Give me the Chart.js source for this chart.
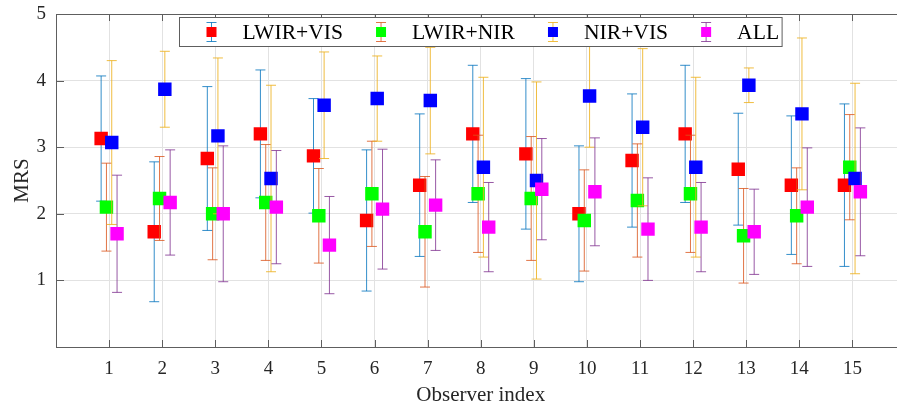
<!DOCTYPE html>
<html>
<head>
<meta charset="utf-8">
<script src="https://cdn.jsdelivr.net/npm/chart.js@4/dist/chart.umd.min.js"></script>
<style>
  html, body { margin: 0; padding: 0; background: #fff; overflow: hidden; }
  #wrap { width: 897px; height: 412px; overflow: hidden; }
  canvas { display: block; }
</style>
</head>
<body>
<!-- the axes box runs past the right edge of the picture, as in the original figure -->
<div id="wrap"><canvas id="chart" width="915" height="412"></canvas></div>
<script>
const observers = [1, 2, 3, 4, 5, 6, 7, 8, 9, 10, 11, 12, 13, 14, 15];
const yTicks = [1, 2, 3, 4, 5];
const seriesNames = ["LWIR+VIS", "LWIR+NIR", "NIR+VIS", "ALL"];

const lwirVisMean = [3.13, 1.73, 2.83, 3.2, 2.87, 1.9, 2.43, 3.2, 2.9, 2.0, 2.8, 3.2, 2.67, 2.43, 2.43];
const lwirVisStd = [0.94, 1.05, 1.08, 0.96, 0.86, 1.06, 1.07, 1.03, 1.13, 1.02, 1.0, 1.03, 0.84, 1.04, 1.22];

const lwirNirMean = [2.1, 2.23, 2.0, 2.17, 1.97, 2.3, 1.73, 2.3, 2.23, 1.9, 2.2, 2.3, 1.67, 1.97, 2.7];
const lwirNirStd = [0.66, 0.63, 0.69, 0.87, 0.71, 0.79, 0.83, 0.88, 0.93, 0.76, 0.85, 0.88, 0.71, 0.72, 0.79];

const nirVisMean = [3.07, 3.87, 3.17, 2.53, 3.63, 3.73, 3.7, 2.7, 2.5, 3.77, 3.3, 2.7, 3.93, 3.5, 2.53];
const nirVisStd = [1.23, 0.57, 1.17, 1.4, 0.8, 0.64, 0.8, 1.35, 1.48, 0.77, 1.18, 1.35, 0.26, 1.14, 1.43];

const allMean = [1.7, 2.17, 2.0, 2.1, 1.53, 2.07, 2.13, 1.8, 2.37, 2.33, 1.77, 1.8, 1.73, 2.1, 2.33];
const allStd = [0.88, 0.79, 1.02, 0.85, 0.73, 0.9, 0.68, 0.67, 0.76, 0.81, 0.77, 0.67, 0.64, 0.89, 0.96];

const means = [lwirVisMean, lwirNirMean, nirVisMean, allMean];
const stds = [lwirVisStd, lwirNirStd, nirVisStd, allStd];

// styling
const offsets = [-0.15, -0.05, 0.05, 0.15];
const markerColors = ["#ff0000", "#00ff00", "#0000ff", "#ff00ff"];
const errColors = ["rgba(0,114,189,0.8)", "rgba(217,83,25,0.8)", "rgba(237,177,32,0.85)", "rgba(126,47,142,0.8)"];
const serif = "'Liberation Serif', 'Times New Roman', serif";
const textColor = "#262626";
const axisColor = "#5e5e5e";

const errorBars = {
  id: "errorBars",
  beforeDatasetDraw(chart, args) {
    const i = args.index;
    const ctx = chart.ctx;
    const xs = chart.scales.x;
    const ys = chart.scales.y;
    ctx.save();
    ctx.strokeStyle = errColors[i];
    ctx.lineWidth = 1;
    observers.forEach((o, j) => {
      const x = xs.getPixelForValue(o + offsets[i]);
      const yt = ys.getPixelForValue(means[i][j] + stds[i][j]);
      const yb = ys.getPixelForValue(means[i][j] - stds[i][j]);
      ctx.beginPath();
      ctx.moveTo(x, yt);
      ctx.lineTo(x, yb);
      ctx.moveTo(x - 5, yt);
      ctx.lineTo(x + 5, yt);
      ctx.moveTo(x - 5, yb);
      ctx.lineTo(x + 5, yb);
      ctx.stroke();
    });
    ctx.restore();
  }
};

const frame = {
  id: "frame",
  beforeDatasetsDraw(chart) {
    const ctx = chart.ctx;
    const a = chart.chartArea;
    const xs = chart.scales.x;
    const ys = chart.scales.y;
    ctx.save();
    ctx.strokeStyle = axisColor;
    ctx.lineWidth = 1;
    ctx.beginPath();
    ctx.moveTo(a.left, a.top + 0.5);
    ctx.lineTo(a.right, a.top + 0.5);
    observers.forEach((o) => {
      const x = Math.round(xs.getPixelForValue(o)) + 0.5;
      ctx.moveTo(x, a.bottom);
      ctx.lineTo(x, a.bottom - 7);
      ctx.moveTo(x, a.top);
      ctx.lineTo(x, a.top + 7);
    });
    yTicks.forEach((v) => {
      const y = Math.round(ys.getPixelForValue(v)) + 0.5;
      ctx.moveTo(a.left, y);
      ctx.lineTo(a.left + 8, y);
    });
    ctx.stroke();
    ctx.restore();
  }
};

const legendBox = {
  id: "legendBox",
  afterDraw(chart) {
    const ctx = chart.ctx;
    const a = chart.chartArea;
    const xs = chart.scales.x;
    ctx.save();
    ctx.font = "21.6px " + serif;
    const widths = seriesNames.map((n) => ctx.measureText(n).width);
    const padL = 32, iconGap = 31, entryGap = 38, padR = 3;
    let total = padL + padR;
    widths.forEach((w, i) => {
      total += iconGap + w + (i < widths.length - 1 ? entryGap : 0);
    });
    const h = 29;
    // legend is centred on the middle of the axes box (x = 8)
    const left = Math.round(xs.getPixelForValue(8) - total / 2) + 0.5;
    const top = a.top + 3.5;
    ctx.fillStyle = "#fff";
    ctx.fillRect(left, top, total, h);
    ctx.strokeStyle = axisColor;
    ctx.lineWidth = 1;
    ctx.strokeRect(left, top, total, h);
    const cy = top + h / 2;
    let x = left + padL;
    seriesNames.forEach((name, i) => {
      ctx.strokeStyle = errColors[i];
      ctx.beginPath();
      ctx.moveTo(x, cy - 9.5);
      ctx.lineTo(x, cy + 9.5);
      ctx.moveTo(x - 5, cy - 9.5);
      ctx.lineTo(x + 5, cy - 9.5);
      ctx.moveTo(x - 5, cy + 9.5);
      ctx.lineTo(x + 5, cy + 9.5);
      ctx.stroke();
      ctx.fillStyle = markerColors[i];
      ctx.fillRect(x - 5, cy - 5, 10, 10);
      ctx.fillStyle = "#000";
      ctx.textBaseline = "middle";
      ctx.textAlign = "left";
      ctx.fillText(name, x + iconGap, cy + 1);
      x += iconGap + widths[i] + entryGap;
    });
    ctx.restore();
  }
};

const datasets = seriesNames.map((name, i) => ({
  label: name,
  data: observers.map((o, j) => ({ x: o + offsets[i], y: means[i][j] })),
  backgroundColor: markerColors[i],
  borderColor: markerColors[i],
  pointStyle: "rect",
  pointRadius: 9.5,
  pointBorderWidth: 0,
  showLine: false,
  order: seriesNames.length - i
}));

new Chart(document.getElementById("chart"), {
  type: "scatter",
  data: { datasets },
  options: {
    responsive: false,
    animation: false,
    events: [],
    layout: { padding: { top: 14, left: 0, right: 0, bottom: 0 } },
    plugins: {
      legend: { display: false },
      tooltip: { enabled: false }
    },
    scales: {
      x: {
        type: "linear",
        min: 0,
        max: 16,
        afterBuildTicks: (s) => { s.ticks = observers.map((v) => ({ value: v })); },
        afterFit: (s) => { s.height = 65; },
        grid: { color: "#e2e2e2", lineWidth: 1, drawTicks: false },
        border: { display: true, color: axisColor, width: 1 },
        ticks: { autoSkip: false, maxRotation: 0, padding: 11, color: textColor, font: { family: serif, size: 19 } },
        title: { display: true, text: "Observer index", color: textColor, font: { family: serif, size: 21 }, padding: { top: 4, bottom: 4 } }
      },
      y: {
        type: "linear",
        min: 0,
        max: 5,
        afterBuildTicks: (s) => { s.ticks = yTicks.map((v) => ({ value: v })); },
        afterFit: (s) => { s.width = 56; s.paddingTop = 0; s.paddingBottom = 0; },
        grid: { color: "#e2e2e2", lineWidth: 1, drawTicks: false },
        border: { display: true, color: axisColor, width: 1 },
        ticks: { padding: 10, color: textColor, font: { family: serif, size: 19 } },
        title: { display: true, text: "MRS", color: textColor, font: { family: serif, size: 21 }, padding: { top: 10, bottom: 4 } }
      }
    }
  },
  plugins: [errorBars, frame, legendBox]
});
</script>
</body>
</html>
